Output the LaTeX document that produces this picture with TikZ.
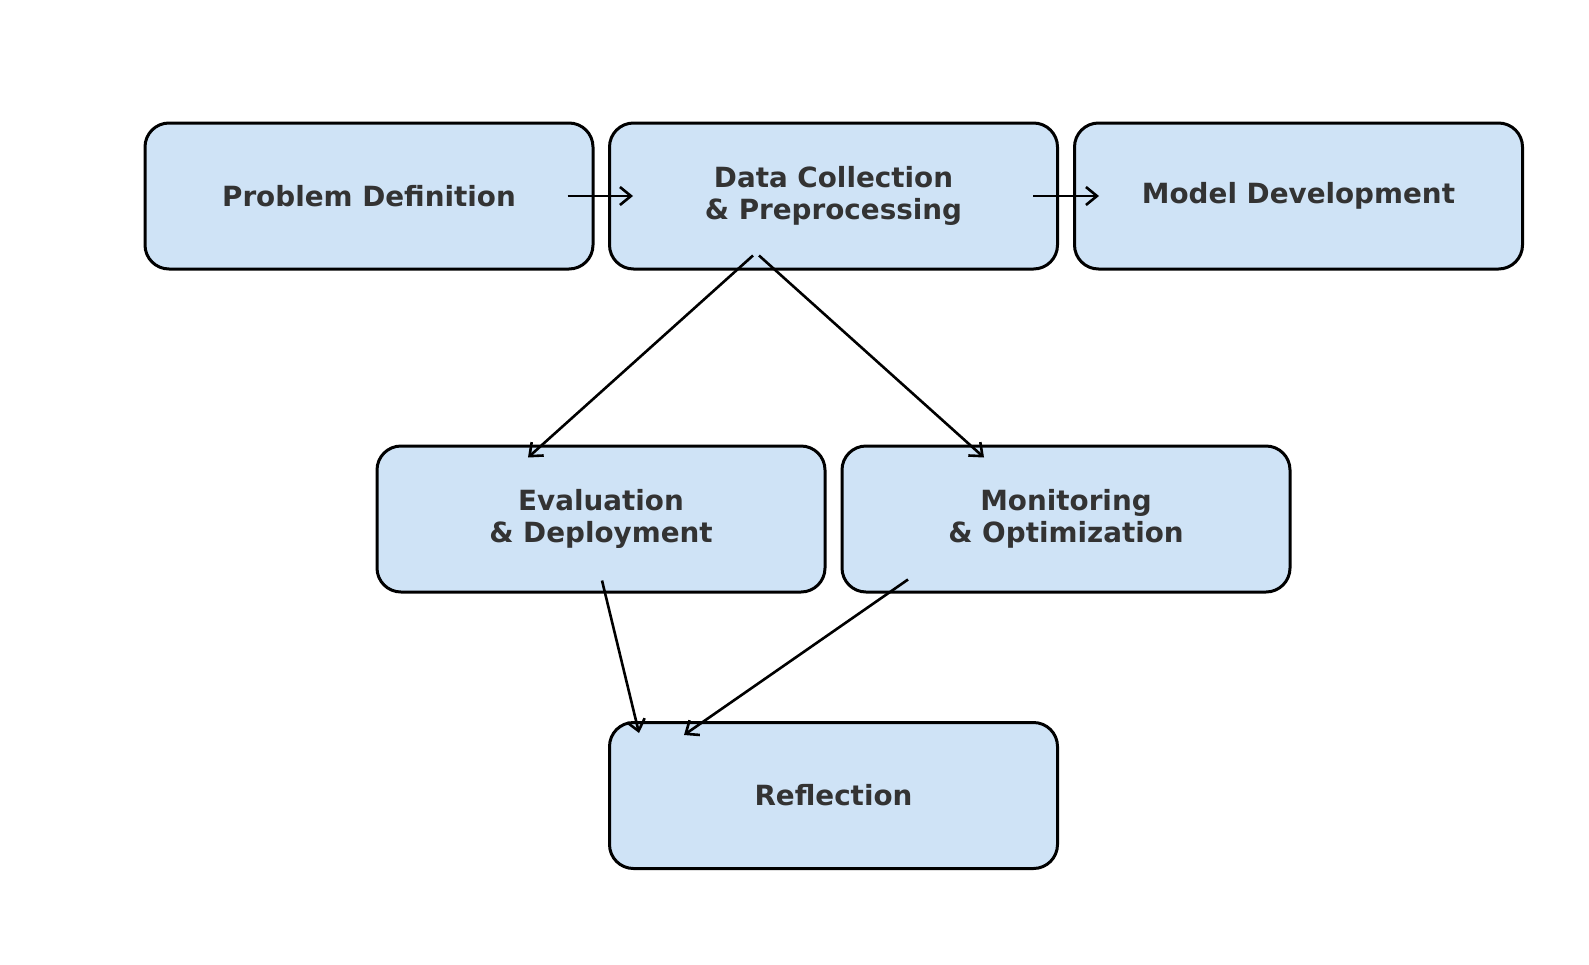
\documentclass[tikz,border=0pt]{standalone}
\usepackage{fontspec}
\setmainfont{DejaVu Sans}
\usetikzlibrary{arrows.meta,calc}
\definecolor{boxfill}{RGB}{207,227,246}
\definecolor{txt}{RGB}{51,51,51}
\begin{document}
\begin{tikzpicture}[x=0.5pt,y=-0.5pt,
  stagebox/.style={draw=black,line width=1.5pt,fill=boxfill,rounded corners=12pt,
    minimum width=224pt,minimum height=73pt,inner sep=0pt,align=center,
    text=txt,font=\fontsize{13.9}{16.2}\selectfont\bfseries},
  conn/.style={line width=1.3pt,-{Straight Barb[length=5.5pt,width=9pt,line width=1.3pt]}}]
\useasboundingbox (0,0) rectangle (1589,964);
\node[stagebox] (pd) at (369,196) {Problem Definition};
\node[stagebox] (dc) at (833.5,196) {Data Collection\\\& Preprocessing};
\node[stagebox] (md) at (1298.5,196) {Model Development};
\node[stagebox] (ev) at (601,519) {Evaluation\\\& Deployment};
\node[stagebox] (mo) at (1066,519) {Monitoring\\\& Optimization};
\node[stagebox] (re) at (833.5,795.5) {Reflection};
\draw[conn] ($(pd.east)+(-27,0)$) -- ($(dc.west)+(25,0)$);
\draw[conn] ($(dc.east)+(-26,0)$) -- ($(md.west)+(26,0)$);
\draw[conn] ($(dc.south)+(-80.5,-15)$) -- ($(ev.north)+(-73,13)$);
\draw[conn] ($(dc.south)+(-74.5,-15)$) -- ($(mo.north)+(-82,13)$);
\draw[conn] ($(ev.south)+(1,-13)$) -- ($(re.north)+(-194.5,12)$);
\draw[conn] ($(mo.south)+(-158,-14)$) -- ($(re.north)+(-149.5,14)$);
\end{tikzpicture}
\end{document}
